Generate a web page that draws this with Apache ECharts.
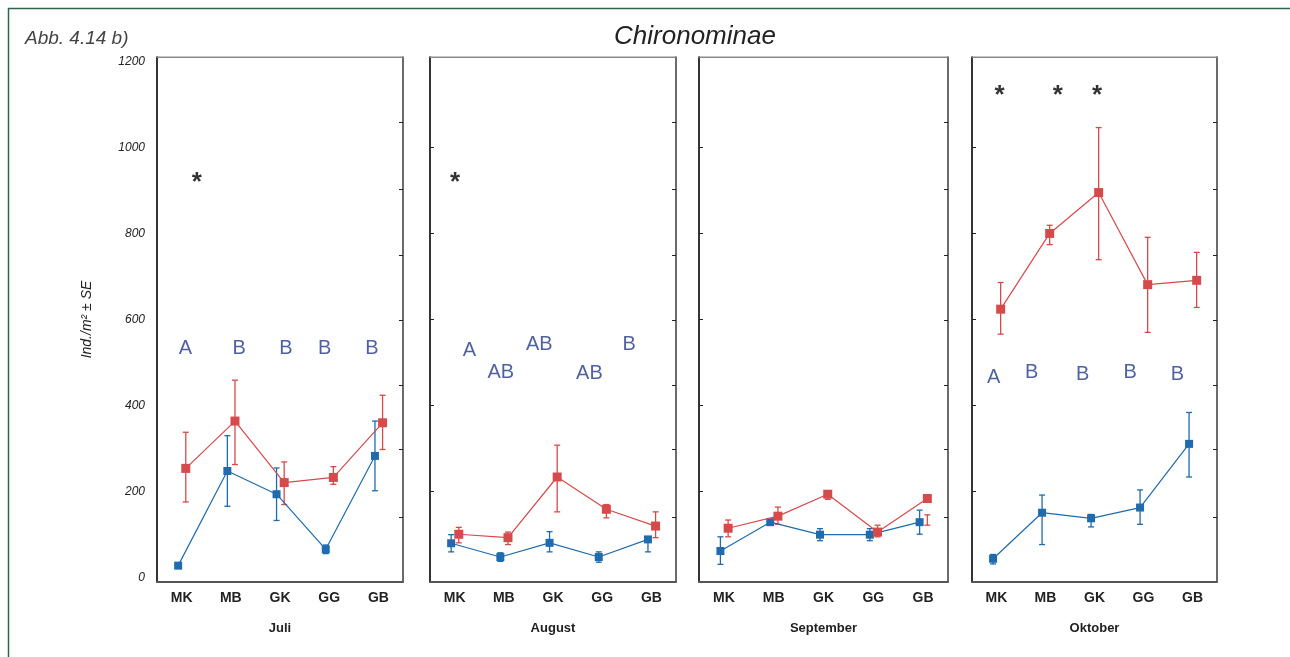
<!DOCTYPE html>
<html>
<head>
<meta charset="utf-8">
<script src="https://cdn.jsdelivr.net/npm/echarts@6/dist/echarts.min.js"></script>
<style>
html,body{margin:0;padding:0;background:#fff;}
#chart{width:1290px;height:657px;}
</style>
</head>
<body>
<div id="chart"></div>
<script>
// ---------- data ----------
const categories = ['MK', 'MB', 'GK', 'GG', 'GB'];
const months = ['Juli', 'August', 'September', 'Oktober'];
const yTickValues = [0, 200, 400, 600, 800, 1000, 1200];
const rightTickValues = [140, 298, 448, 599, 750, 902, 1058];

// blue series (mean, lower and upper end of ± SE bar), one row per month
const blueMean = [
  [28, 248, 194, 66, 283],
  [80, 48, 81, 48, 89],
  [62, 129, 100, 100, 129],
  [44, 151, 138, 163, 311]
];
const blueLow = [
  [22, 166, 133, 56, 202],
  [60, 38, 60, 36, 60],
  [31, 125, 86, 86, 101],
  [32, 77, 118, 124, 234]
];
const blueHigh = [
  [34, 330, 255, 76, 364],
  [100, 58, 107, 60, 93],
  [95, 133, 114, 114, 157],
  [54, 192, 147, 204, 384]
];
// red series
const redMean = [
  [254, 364, 221, 233, 360],
  [101, 93, 234, 159, 120],
  [115, 143, 194, 106, 184],
  [624, 800, 895, 681, 691]
];
const redLow = [
  [176, 263, 170, 217, 298],
  [81, 77, 153, 139, 93],
  [95, 124, 182, 95, 122],
  [566, 774, 739, 570, 628]
];
const redHigh = [
  [338, 459, 269, 258, 424],
  [117, 106, 308, 170, 153],
  [134, 164, 200, 122, 146],
  [686, 819, 1046, 791, 756]
];
// significance letters: text, category position, value position
const letterText = [
  ['A', 'B', 'B', 'B', 'B'],
  ['A', 'AB', 'AB', 'AB', 'B'],
  [],
  ['A', 'B', 'B', 'B', 'B']
];
const letterX = [
  [0.08, 1.17, 2.12, 2.91, 3.87],
  [0.30, 0.94, 1.72, 2.74, 3.55],
  [],
  [-0.06, 0.72, 1.76, 2.73, 3.69]
];
const letterY = [
  [532, 532, 532, 532, 532],
  [529, 477, 543, 475, 543],
  [],
  [466, 477, 473, 477, 473]
];
// asterisks: category position, value position
const starX = [[0.31], [0.01], [], [0.06, 1.25, 2.05]];
const starY = [[930], [930], [], [1131, 1131, 1131]];

// ---------- layout / style ----------
const BLUE = '#1f6bad';
const RED = '#d64a4b';
const LETTER = '#24398c';
const FONT = 'Liberation Sans, Arial, sans-serif';
const gridLeft = [157, 430, 699, 972];
const gridWidth = [246, 246, 249, 245];
const GTOP = 57, GHEIGHT = 525;
const BLUE_OFF = -0.07, RED_OFF = 0.085;
const YMIN = -10, YMAX = 1210;

const grids = [], xAxes = [], yAxes = [], series = [];

function errRender(color) {
  return function (params, api) {
    const x = api.value(0), lo = api.value(1), hi = api.value(2);
    const p1 = api.coord([x, lo]), p2 = api.coord([x, hi]);
    const w = 3;
    const st = { stroke: color, lineWidth: 1.3 };
    return {
      type: 'group',
      children: [
        { type: 'line', shape: { x1: p1[0], y1: p1[1], x2: p2[0], y2: p2[1] }, style: st },
        { type: 'line', shape: { x1: p1[0] - w, y1: p1[1], x2: p1[0] + w, y2: p1[1] }, style: st },
        { type: 'line', shape: { x1: p2[0] - w, y1: p2[1], x2: p2[0] + w, y2: p2[1] }, style: st }
      ]
    };
  };
}

months.forEach((month, i) => {
  grids.push({
    left: gridLeft[i], top: GTOP, width: gridWidth[i], height: GHEIGHT,
    show: true, borderColor: '#8a8a8a', borderWidth: 1, backgroundColor: 'transparent'
  });
  const xb = xAxes.length;
  // visible bottom category axis
  xAxes.push({
    type: 'category', gridIndex: i, position: 'bottom', data: categories,
    boundaryGap: true,
    axisLine: { onZero: false, lineStyle: { color: '#555', width: 1.8 } },
    axisTick: { alignWithLabel: true, inside: true, length: 4, lineStyle: { color: '#222' } },
    axisLabel: { fontFamily: FONT, fontWeight: 'bold', fontSize: 14, color: '#222', margin: 9 },
    name: month, nameLocation: 'middle', nameGap: 40,
    nameTextStyle: { fontFamily: FONT, fontWeight: 'bold', fontSize: 13, color: '#222' }
  });
  // top category axis (ticks only)
  xAxes.push({
    type: 'category', gridIndex: i, position: 'top', data: categories,
    boundaryGap: true,
    axisLine: { onZero: false, lineStyle: { color: '#888', width: 1 } },
    axisTick: { alignWithLabel: true, inside: true, length: 4, lineStyle: { color: '#222' } },
    axisLabel: { show: false }
  });
  // hidden value axis for data placement
  xAxes.push({
    type: 'value', gridIndex: i, min: -0.5, max: 4.5, show: false
  });
  const yl = yAxes.length;
  yAxes.push({
    type: 'value', gridIndex: i, position: 'left', min: YMIN, max: YMAX,
    splitLine: { show: false },
    axisLine: { show: true, onZero: false, lineStyle: { color: '#111', width: 1.6 } },
    axisTick: { show: i > 0, inside: true, length: 4, customValues: yTickValues.slice(1, 6), lineStyle: { color: '#222' } },
    axisLabel: {
      show: i === 0, customValues: yTickValues, formatter: v => String(v),
      fontStyle: 'italic', fontSize: 12, color: '#222', margin: 12, fontFamily: FONT
    },
    name: i === 0 ? 'Ind./m² ± SE' : '', nameLocation: 'middle', nameGap: 63, nameRotate: 90,
    nameTextStyle: { fontStyle: 'italic', fontSize: 14, color: '#222', fontFamily: FONT }
  });
  yAxes.push({
    type: 'value', gridIndex: i, position: 'right', min: YMIN, max: YMAX,
    splitLine: { show: false },
    axisLine: { show: true, onZero: false, lineStyle: { color: '#555', width: 1.6 } },
    axisTick: { show: true, inside: true, length: 4, customValues: rightTickValues, lineStyle: { color: '#222' } },
    axisLabel: { show: false }
  });
  const xv = xb + 2;

  // error bars
  series.push({
    type: 'custom', xAxisIndex: xv, yAxisIndex: yl, z: 2,
    renderItem: errRender(BLUE), encode: { x: 0, y: [1, 2] },
    data: categories.map((c, k) => [k + BLUE_OFF, blueLow[i][k], blueHigh[i][k]])
  });
  series.push({
    type: 'custom', xAxisIndex: xv, yAxisIndex: yl, z: 2,
    renderItem: errRender(RED), encode: { x: 0, y: [1, 2] },
    data: categories.map((c, k) => [k + RED_OFF, redLow[i][k], redHigh[i][k]])
  });
  // lines with markers
  series.push({
    type: 'line', xAxisIndex: xv, yAxisIndex: yl, z: 3,
    symbol: 'rect', symbolSize: 8, showSymbol: true,
    lineStyle: { color: BLUE, width: 1.2 }, itemStyle: { color: BLUE },
    data: categories.map((c, k) => [k + BLUE_OFF, blueMean[i][k]])
  });
  series.push({
    type: 'line', xAxisIndex: xv, yAxisIndex: yl, z: 4,
    symbol: 'rect', symbolSize: 9, showSymbol: true,
    lineStyle: { color: RED, width: 1.2 }, itemStyle: { color: RED },
    data: categories.map((c, k) => [k + RED_OFF, redMean[i][k]])
  });
  // letters
  if (letterText[i].length) {
    series.push({
      type: 'scatter', xAxisIndex: xv, yAxisIndex: yl, z: 5, symbolSize: 0,
      data: letterText[i].map((t, k) => [letterX[i][k], letterY[i][k], t]),
      label: {
        show: true, position: 'inside', formatter: p => p.data[2],
        fontSize: 20, color: LETTER, fontFamily: FONT
      },
      silent: true
    });
  }
  if (starX[i].length) {
    series.push({
      type: 'scatter', xAxisIndex: xv, yAxisIndex: yl, z: 5, symbolSize: 0,
      data: starX[i].map((x, k) => [x, starY[i][k]]),
      label: {
        show: true, position: 'inside', formatter: '*', offset: [0, 5],
        fontSize: 26, fontWeight: 'bold', color: '#000', fontFamily: FONT
      },
      silent: true
    });
  }
});

const chart = echarts.init(document.getElementById('chart'), null, { renderer: 'canvas' });
chart.setOption({
  animation: false,
  backgroundColor: '#fff',
  title: [
    {
      text: 'Chironominae', left: 690, top: 19, textAlign: 'center',
      textStyle: { fontStyle: 'italic', fontWeight: 'normal', fontSize: 26, color: '#222', fontFamily: FONT }
    },
    {
      text: 'Abb. 4.14 b)', left: 20, top: 24,
      textStyle: { fontStyle: 'italic', fontWeight: 'normal', fontSize: 19, color: '#444', fontFamily: FONT }
    }
  ],
  graphic: [
    {
      type: 'rect', left: 6, top: 6, shape: { width: 1400, height: 800 }, silent: true,
      style: { fill: 'none', stroke: '#2a6647', lineWidth: 1.5 }
    }
  ],
  grid: grids,
  xAxis: xAxes,
  yAxis: yAxes,
  series: series
});
</script>
</body>
</html>
